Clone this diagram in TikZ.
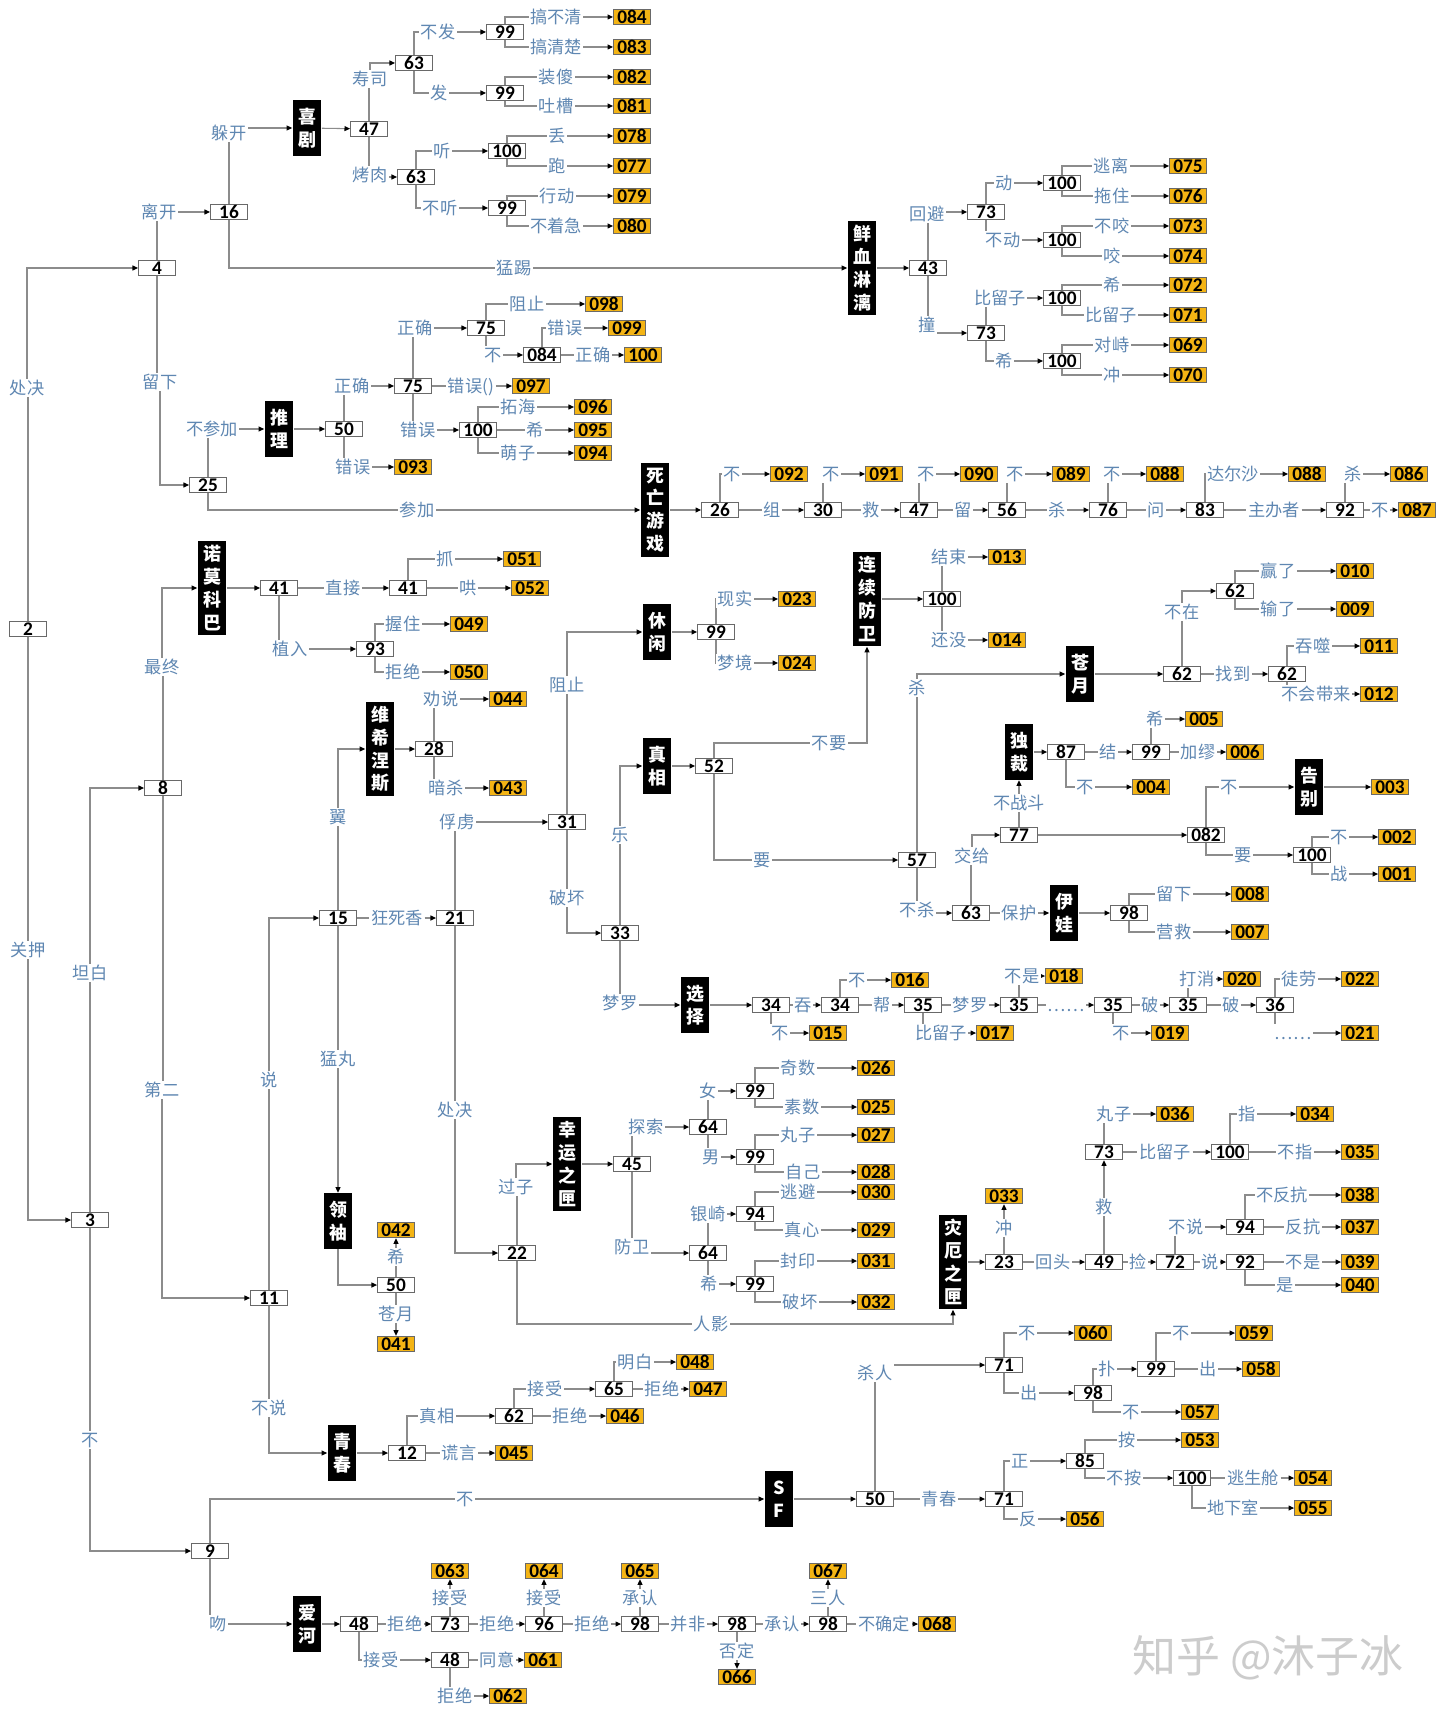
\documentclass[tikz,border=0pt]{standalone}
\usepackage{fontspec}
\setmainfont{Carlito}
\newfontfamily\cjk{Noto Sans CJK SC}
\usetikzlibrary{arrows.meta}
\pgfdeclarelayer{bg}
\pgfsetlayers{bg,main}
\definecolor{lbl}{RGB}{95,135,178}
\definecolor{lnc}{RGB}{140,140,140}
\definecolor{bxl}{RGB}{105,105,105}
\definecolor{gold}{RGB}{244,180,20}
\tikzset{
 bx/.style={draw=bxl, line width=0.5pt, fill=white, minimum width=21pt, minimum height=8.8pt, inner sep=0pt, font=\bfseries\fontsize{11}{11}\selectfont},
 ed/.style={bx, fill=gold},
 bk/.style={fill=black, text=white, minimum width=16.4pt, inner sep=0pt, align=center, font=\cjk\bfseries\fontsize{10.2}{13}\selectfont},
 bk2/.style={bk, minimum height=31.7pt},
 bk4/.style={bk, minimum height=53.9pt},
 lb/.style={fill=white, text=lbl, inner xsep=0.8pt, inner ysep=0.3pt, text height=8.4pt, text depth=1.2pt, font=\cjk\fontsize{9.8}{10}\selectfont},
 ln/.style={draw=lnc, line width=0.6pt},
 ar/.style={ln, -{Triangle[length=3.2pt,width=2.8pt,color=black]}},
}
\newcounter{lc}
\newcommand\lkV[4]{\stepcounter{lc}\node[lb] (q\arabic{lc}) at (#2) {#3};
 \begin{pgfonlayer}{bg}\draw[ln] (#1) |- (q\arabic{lc}.center);\draw[ar] (q\arabic{lc}.center) |- (#4);\end{pgfonlayer}}
\newcommand\lkH[4]{\stepcounter{lc}\node[lb] (q\arabic{lc}) at (#2) {#3};
 \begin{pgfonlayer}{bg}\draw[ln] (#1) -- (q\arabic{lc});\draw[ar] (q\arabic{lc}) -- (#4);\end{pgfonlayer}}
\begin{document}
\begin{tikzpicture}[x=0.02cm,y=-0.02cm]
\begin{pgfonlayer}{bg}\fill[white] (0,0) rectangle (1440,1716);\end{pgfonlayer}
\useasboundingbox (0,0) rectangle (1440,1716);
% white boxes
\node[bx] (b2) at (28,629) {2};
\node[bx] (b3) at (90,1220) {3};
\node[bx] (b4) at (157,268) {4};
\node[bx] (b8) at (163,788) {8};
\node[bx] (b9) at (210,1551) {9};
\node[bx] (b11) at (269,1298) {11};
\node[bx] (b16) at (229,212) {16};
\node[bx] (b25) at (208,485) {25};
\node[bx] (b47a) at (369,129) {47};
\node[bx] (b63a) at (414,63) {63};
\node[bx] (b63b) at (416,177) {63};
\node[bx] (b99a) at (505,32) {99};
\node[bx] (b99b) at (505,93) {99};
\node[bx] (b100a) at (507,151) {100};
\node[bx] (b99c) at (507,208) {99};
\node[bx] (b43) at (928,268) {43};
\node[bx] (b73a) at (986,212) {73};
\node[bx] (b73b) at (986,333) {73};
\node[bx] (b100b) at (1062,183) {100};
\node[bx] (b100c) at (1062,240) {100};
\node[bx] (b100d) at (1062,298) {100};
\node[bx] (b100e) at (1062,361) {100};
\node[bx] (b50a) at (344,429) {50};
\node[bx] (b75a) at (486,328) {75};
\node[bx] (b75b) at (413,386) {75};
\node[bx] (b084) at (542,355) {084};
\node[bx] (b100f) at (478,430) {100};
\node[bx] (b26) at (720,510) {26};
\node[bx] (b30) at (823,510) {30};
\node[bx] (b47b) at (919,510) {47};
\node[bx] (b56) at (1007,510) {56};
\node[bx] (b76) at (1108,510) {76};
\node[bx] (b83) at (1205,510) {83};
\node[bx] (b92a) at (1345,510) {92};
\node[bx] (b41a) at (279,588) {41};
\node[bx] (b41b) at (408,588) {41};
\node[bx] (b93) at (375,649) {93};
\node[bx] (b28) at (434,749) {28};
\node[bx] (b15) at (338,918) {15};
\node[bx] (b21) at (455,918) {21};
\node[bx] (b50b) at (396,1285) {50};
\node[bx] (b31) at (567,822) {31};
\node[bx] (b22) at (517,1253) {22};
\node[bx] (b99d) at (716,632) {99};
\node[bx] (b33) at (620,933) {33};
\node[bx] (b52) at (714,766) {52};
\node[bx] (b100g) at (942,599) {100};
\node[bx] (b57) at (917,860) {57};
\node[bx] (b63c) at (971,913) {63};
\node[bx] (b77) at (1019,835) {77};
\node[bx] (b87) at (1066,752) {87};
\node[bx] (b99e) at (1151,752) {99};
\node[bx] (b082) at (1206,835) {082};
\node[bx] (b100h) at (1312,855) {100};
\node[bx] (b98a) at (1129,913) {98};
\node[bx] (b62a) at (1182,674) {62};
\node[bx] (b62b) at (1235,591) {62};
\node[bx] (b62c) at (1287,674) {62};
\node[bx] (b34a) at (771,1005) {34};
\node[bx] (b34b) at (840,1005) {34};
\node[bx] (b35a) at (923,1005) {35};
\node[bx] (b35b) at (1019,1005) {35};
\node[bx] (b35c) at (1113,1005) {35};
\node[bx] (b35d) at (1188,1005) {35};
\node[bx] (b36) at (1275,1005) {36};
\node[bx] (b45) at (632,1164) {45};
\node[bx] (b64a) at (708,1127) {64};
\node[bx] (b99f) at (755,1091) {99};
\node[bx] (b99g) at (755,1157) {99};
\node[bx] (b64b) at (708,1253) {64};
\node[bx] (b94a) at (755,1214) {94};
\node[bx] (b99h) at (755,1284) {99};
\node[bx] (b23) at (1004,1262) {23};
\node[bx] (b49) at (1104,1262) {49};
\node[bx] (b73c) at (1104,1152) {73};
\node[bx] (b100i) at (1230,1152) {100};
\node[bx] (b72) at (1175,1262) {72};
\node[bx] (b94b) at (1245,1227) {94};
\node[bx] (b92b) at (1245,1262) {92};
\node[bx] (b12) at (407,1453) {12};
\node[bx] (b62d) at (514,1416) {62};
\node[bx] (b65) at (614,1389) {65};
\node[bx] (b50c) at (875,1499) {50};
\node[bx] (b71a) at (1004,1365) {71};
\node[bx] (b98b) at (1093,1393) {98};
\node[bx] (b99i) at (1156,1369) {99};
\node[bx] (b71b) at (1004,1499) {71};
\node[bx] (b85) at (1085,1461) {85};
\node[bx] (b100j) at (1192,1478) {100};
\node[bx] (b48a) at (359,1624) {48};
\node[bx] (b73d) at (450,1624) {73};
\node[bx] (b96) at (544,1624) {96};
\node[bx] (b98c) at (640,1624) {98};
\node[bx] (b98d) at (737,1624) {98};
\node[bx] (b98e) at (828,1624) {98};
\node[bx] (b48b) at (450,1660) {48};
% ending boxes
\node[ed] (e084) at (632,17) {084};
\node[ed] (e083) at (632,47) {083};
\node[ed] (e082) at (632,77) {082};
\node[ed] (e081) at (632,106) {081};
\node[ed] (e078) at (632,136) {078};
\node[ed] (e077) at (632,166) {077};
\node[ed] (e079) at (632,196) {079};
\node[ed] (e080) at (632,226) {080};
\node[ed] (e075) at (1188,166) {075};
\node[ed] (e076) at (1188,196) {076};
\node[ed] (e073) at (1188,226) {073};
\node[ed] (e074) at (1188,256) {074};
\node[ed] (e072) at (1188,285) {072};
\node[ed] (e071) at (1188,315) {071};
\node[ed] (e069) at (1188,345) {069};
\node[ed] (e070) at (1188,375) {070};
\node[ed] (e098) at (604,304) {098};
\node[ed] (e099) at (627,328) {099};
\node[ed] (e100) at (643,355) {100};
\node[ed] (e097) at (531,386) {097};
\node[ed] (e096) at (593,407) {096};
\node[ed] (e095) at (593,430) {095};
\node[ed] (e094) at (593,453) {094};
\node[ed] (e093) at (413,467) {093};
\node[ed] (e092) at (789,474) {092};
\node[ed] (e091) at (884,474) {091};
\node[ed] (e090) at (979,474) {090};
\node[ed] (e089) at (1071,474) {089};
\node[ed] (e088a) at (1165,474) {088};
\node[ed] (e088b) at (1307,474) {088};
\node[ed] (e086) at (1409,474) {086};
\node[ed] (e087) at (1417,510) {087};
\node[ed] (e051) at (522,559) {051};
\node[ed] (e052) at (530,588) {052};
\node[ed] (e049) at (469,624) {049};
\node[ed] (e050) at (469,672) {050};
\node[ed] (e044) at (508,699) {044};
\node[ed] (e043) at (508,788) {043};
\node[ed] (e042) at (396,1230) {042};
\node[ed] (e041) at (396,1344) {041};
\node[ed] (e023) at (797,599) {023};
\node[ed] (e024) at (797,663) {024};
\node[ed] (e013) at (1007,557) {013};
\node[ed] (e014) at (1007,640) {014};
\node[ed] (e010) at (1355,571) {010};
\node[ed] (e009) at (1355,609) {009};
\node[ed] (e011) at (1379,646) {011};
\node[ed] (e012) at (1379,694) {012};
\node[ed] (e005) at (1204,719) {005};
\node[ed] (e006) at (1245,752) {006};
\node[ed] (e004) at (1151,787) {004};
\node[ed] (e003) at (1390,787) {003};
\node[ed] (e002) at (1397,837) {002};
\node[ed] (e001) at (1397,874) {001};
\node[ed] (e008) at (1250,894) {008};
\node[ed] (e007) at (1250,932) {007};
\node[ed] (e016) at (910,980) {016};
\node[ed] (e015) at (828,1033) {015};
\node[ed] (e017) at (995,1033) {017};
\node[ed] (e018) at (1064,976) {018};
\node[ed] (e019) at (1170,1033) {019};
\node[ed] (e020) at (1242,979) {020};
\node[ed] (e022) at (1360,979) {022};
\node[ed] (e021) at (1360,1033) {021};
\node[ed] (e026) at (876,1068) {026};
\node[ed] (e025) at (876,1107) {025};
\node[ed] (e027) at (876,1135) {027};
\node[ed] (e028) at (876,1172) {028};
\node[ed] (e030) at (876,1192) {030};
\node[ed] (e029) at (876,1230) {029};
\node[ed] (e031) at (876,1261) {031};
\node[ed] (e032) at (876,1302) {032};
\node[ed] (e033) at (1004,1196) {033};
\node[ed] (e036) at (1175,1114) {036};
\node[ed] (e034) at (1315,1114) {034};
\node[ed] (e035) at (1360,1152) {035};
\node[ed] (e038) at (1360,1195) {038};
\node[ed] (e037) at (1360,1227) {037};
\node[ed] (e039) at (1360,1262) {039};
\node[ed] (e040) at (1360,1285) {040};
\node[ed] (e048) at (695,1362) {048};
\node[ed] (e047) at (708,1389) {047};
\node[ed] (e046) at (625,1416) {046};
\node[ed] (e045) at (514,1453) {045};
\node[ed] (e060) at (1093,1333) {060};
\node[ed] (e059) at (1254,1333) {059};
\node[ed] (e058) at (1261,1369) {058};
\node[ed] (e057) at (1200,1412) {057};
\node[ed] (e053) at (1200,1440) {053};
\node[ed] (e054) at (1313,1478) {054};
\node[ed] (e055) at (1313,1508) {055};
\node[ed] (e056) at (1085,1519) {056};
\node[ed] (e063) at (450,1571) {063};
\node[ed] (e064) at (544,1571) {064};
\node[ed] (e065) at (640,1571) {065};
\node[ed] (e067) at (828,1571) {067};
\node[ed] (e066) at (737,1677) {066};
\node[ed] (e068) at (937,1624) {068};
\node[ed] (e061) at (543,1660) {061};
\node[ed] (e062) at (508,1696) {062};
% black boxes
\node[bk2] (kxj) at (307,128) {喜\\剧};
\node[bk4] (kxx) at (862,268) {鲜\\血\\淋\\漓};
\node[bk2] (ktl) at (279,429) {推\\理};
\node[bk4] (ksw) at (655,510) {死\\亡\\游\\戏};
\node[bk4] (knm) at (212,588) {诺\\莫\\科\\巴};
\node[bk4] (kwx) at (380,749) {维\\希\\涅\\斯};
\node[bk2] (kxq) at (657,632) {休\\闲};
\node[bk4] (klx) at (867,599) {连\\续\\防\\卫};
\node[bk2] (kcy) at (1080,674) {苍\\月};
\node[bk2] (kzx) at (657,766) {真\\相};
\node[bk2] (kdc) at (1019,752) {独\\裁};
\node[bk2] (kgb) at (1309,787) {告\\别};
\node[bk2] (kyw) at (1064,913) {伊\\娃};
\node[bk2] (kxz) at (695,1005) {选\\择};
\node[bk2] (kls) at (338,1221) {领\\袖};
\node[bk4] (kxy) at (567,1164) {幸\\运\\之\\匣};
\node[bk4] (kze) at (953,1262) {灾\\厄\\之\\匣};
\node[bk2] (kqc) at (342,1453) {青\\春};
\node[bk2] (ksf) at (779,1499) {S\\F};
\node[bk2] (kah) at (307,1624) {爱\\河};
% direct arrows
\begin{pgfonlayer}{bg}
\draw[ar] (kxj) -- (b47a);
\draw[ar] (kxx) -- (b43);
\draw[ar] (ktl) -- (b50a);
\draw[ar] (ksw) -- (b26);
\draw[ar] (knm) -- (b41a);
\draw[ar] (kwx) -- (b28);
\draw[ar] (kxq) -- (b99d);
\draw[ar] (klx) -- (b100g);
\draw[ar] (kcy) -- (b62a);
\draw[ar] (kzx) -- (b52);
\draw[ar] (kdc) -- (b87);
\draw[ar] (kgb) -- (e003);
\draw[ar] (kyw) -- (b98a);
\draw[ar] (kxz) -- (b34a);
\draw[ar] (kxy) -- (b45);
\draw[ar] (kze) -- (b23);
\draw[ar] (kqc) -- (b12);
\draw[ar] (ksf) -- (b50c);
\draw[ar] (kah) -- (b48a);
\draw[ar] (b77) -- (b082);
\draw[ar] (kls) |- (b50b);
\end{pgfonlayer}
% left trunk
\lkV{b2}{27,388}{处决}{b4}
\lkV{b2}{28,950}{关押}{b3}
\lkV{b4}{159,212}{离开}{b16}
\lkV{b4}{160,382}{留下}{b25}
\lkV{b3}{90,973}{坦白}{b8}
\lkV{b3}{90,1440}{不}{b9}
\lkV{b8}{162,667}{最终}{knm}
\lkV{b8}{162,1090}{第二}{b11}
% comedy
\lkV{b16}{229,133}{躲开}{kxj}
\lkV{b16}{514,268}{猛踢}{kxx}
\lkV{b47a}{370,79}{寿司}{b63a}
\lkV{b47a}{370,175}{烤肉}{b63b}
\lkV{b63a}{438,32}{不发}{b99a}
\lkV{b63a}{439,93}{发}{b99b}
\lkV{b63b}{442,151}{听}{b100a}
\lkV{b63b}{440,208}{不听}{b99c}
\lkV{b99a}{556,17}{搞不清}{e084}
\lkV{b99a}{556,47}{搞清楚}{e083}
\lkV{b99b}{556,77}{装傻}{e082}
\lkV{b99b}{556,106}{吐槽}{e081}
\lkV{b100a}{557,136}{丢}{e078}
\lkV{b100a}{557,166}{跑}{e077}
\lkV{b99c}{557,196}{行动}{e079}
\lkV{b99c}{556,226}{不着急}{e080}
% bloody
\lkV{b43}{927,214}{回避}{b73a}
\lkV{b43}{927,325}{撞}{b73b}
\lkV{b73a}{1004,183}{动}{b100b}
\lkV{b73a}{1003,240}{不动}{b100c}
\lkV{b73b}{1000,298}{比留子}{b100d}
\lkV{b73b}{1004,361}{希}{b100e}
\lkV{b100b}{1111,166}{逃离}{e075}
\lkV{b100b}{1112,196}{拖住}{e076}
\lkV{b100c}{1112,226}{不咬}{e073}
\lkV{b100c}{1112,256}{咬}{e074}
\lkV{b100d}{1112,285}{希}{e072}
\lkV{b100d}{1111,315}{比留子}{e071}
\lkV{b100e}{1112,345}{对峙}{e069}
\lkV{b100e}{1112,375}{冲}{e070}
% reasoning
\lkV{b25}{212,429}{不参加}{ktl}
\lkV{b25}{417,510}{参加}{ksw}
\lkV{b50a}{352,386}{正确}{b75b}
\lkV{b50a}{353,467}{错误}{e093}
\lkV{b75b}{415,328}{正确}{b75a}
\lkH{b75b}{471,386}{错误()}{e097}
\lkV{b75b}{418,430}{错误}{b100f}
\lkV{b75a}{527,304}{阻止}{e098}
\lkV{b75a}{493,355}{不}{b084}
\lkV{b084}{565,328}{错误}{e099}
\lkH{b084}{593,355}{正确}{e100}
\lkV{b100f}{518,407}{拓海}{e096}
\lkH{b100f}{535,430}{希}{e095}
\lkV{b100f}{518,453}{萌子}{e094}
% death game
\lkV{b26}{732,474}{不}{e092}
\lkH{b26}{772,510}{组}{b30}
\lkV{b30}{831,474}{不}{e091}
\lkH{b30}{871,510}{救}{b47b}
\lkV{b47b}{926,474}{不}{e090}
\lkH{b47b}{963,510}{留}{b56}
\lkV{b56}{1015,474}{不}{e089}
\lkH{b56}{1057,510}{杀}{b76}
\lkV{b76}{1112,474}{不}{e088a}
\lkH{b76}{1156,510}{问}{b83}
\lkV{b83}{1233,474}{达尔沙}{e088b}
\lkH{b83}{1274,510}{主办者}{b92a}
\lkV{b92a}{1353,474}{杀}{e086}
\lkH{b92a}{1380,510}{不}{e087}
% nomokoba
\lkH{b41a}{343,588}{直接}{b41b}
\lkV{b41b}{445,559}{抓}{e051}
\lkH{b41b}{468,588}{哄}{e052}
\lkV{b41a}{290,649}{植入}{b93}
\lkV{b93}{403,624}{握住}{e049}
\lkV{b93}{403,672}{拒绝}{e050}
% middle
\lkV{b15}{338,817}{翼}{kwx}
\lkV{b28}{441,699}{劝说}{e044}
\lkV{b28}{446,788}{暗杀}{e043}
\lkV{b11}{269,1080}{说}{b15}
\lkH{b15}{397,918}{狂死香}{b21}
\lkH{b15}{338,1059}{猛丸}{kls}
\lkH{b50b}{396,1257}{希}{e042}
\lkH{b50b}{396,1314}{苍月}{e041}
\lkV{b21}{457,822}{俘虏}{b31}
\lkV{b21}{455,1110}{处决}{b22}
\lkV{b31}{567,685}{阻止}{kxq}
\lkV{b31}{567,898}{破坏}{b33}
\lkV{b99d}{735,599}{现实}{e023}
\lkV{b99d}{735,663}{梦境}{e024}
\lkV{b33}{620,835}{乐}{kzx}
\node[lb] (sp1) at (829,743) {不要};
\begin{pgfonlayer}{bg}\draw[ln] (b52) |- (sp1.center);\draw[ar] (sp1.center) -| (klx);\end{pgfonlayer}
\lkV{b100g}{949,557}{结束}{e013}
\lkV{b100g}{949,640}{还没}{e014}
\lkV{b52}{762,860}{要}{b57}
\lkV{b57}{917,688}{杀}{kcy}
\lkV{b57}{917,910}{不杀}{b63c}
\lkV{b63c}{972,856}{交给}{b77}
\lkH{b77}{1019,803}{不战斗}{kdc}
\lkH{b87}{1108,752}{结}{b99e}
\lkV{b99e}{1155,719}{希}{e005}
\lkH{b99e}{1198,752}{加缪}{e006}
\lkV{b87}{1085,787}{不}{e004}
\lkV{b082}{1229,787}{不}{kgb}
\lkV{b082}{1243,855}{要}{b100h}
\lkV{b100h}{1339,837}{不}{e002}
\lkV{b100h}{1339,874}{战}{e001}
\lkH{b63c}{1019,913}{保护}{kyw}
\lkV{b98a}{1174,894}{留下}{e008}
\lkV{b98a}{1174,932}{营救}{e007}
% moon
\lkV{b62a}{1182,612}{不在}{b62b}
\lkH{b62a}{1233,674}{找到}{b62c}
\lkV{b62b}{1278,571}{赢了}{e010}
\lkV{b62b}{1278,609}{输了}{e009}
\lkV{b62c}{1313,646}{吞噬}{e011}
\lkV{b62c}{1316,694}{不会带来}{e012}
% choice
\lkV{b33}{620,1003}{梦罗}{kxz}
\lkH{b34a}{803,1005}{吞}{b34b}
\lkV{b34a}{780,1033}{不}{e015}
\lkV{b34b}{857,980}{不}{e016}
\lkH{b34b}{882,1005}{帮}{b35a}
\lkH{b35a}{970,1005}{梦罗}{b35b}
\lkV{b35a}{941,1033}{比留子}{e017}
\lkV{b35b}{1022,976}{不是}{e018}
\lkH{b35b}{1066,1005}{……}{b35c}
\lkH{b35c}{1150,1005}{破}{b35d}
\lkV{b35c}{1121,1033}{不}{e019}
\lkV{b35d}{1197,979}{打消}{e020}
\lkH{b35d}{1231,1005}{破}{b36}
\lkV{b36}{1299,979}{徒劳}{e022}
\lkV{b36}{1293,1033}{……}{e021}
% lucky box
\lkV{b22}{516,1187}{过子}{kxy}
\lkV{b45}{646,1127}{探索}{b64a}
\lkV{b45}{632,1247}{防卫}{b64b}
\lkV{b64a}{708,1091}{女}{b99f}
\lkV{b64a}{711,1157}{男}{b99g}
\lkV{b99f}{798,1068}{奇数}{e026}
\lkV{b99f}{802,1107}{素数}{e025}
\lkV{b99g}{798,1135}{丸子}{e027}
\lkV{b99g}{803,1172}{自己}{e028}
\lkV{b64b}{708,1214}{银崎}{b94a}
\lkV{b94a}{798,1192}{逃避}{e030}
\lkV{b94a}{802,1230}{真心}{e029}
\lkV{b64b}{709,1284}{希}{b99h}
\lkV{b99h}{798,1261}{封印}{e031}
\lkV{b99h}{800,1302}{破坏}{e032}
\node[lb] (sp2) at (711,1324) {人影};
\begin{pgfonlayer}{bg}\draw[ln] (b22) |- (sp2.center);\draw[ar] (sp2.center) -| (kze);\end{pgfonlayer}
% disaster box
\lkH{b23}{1004,1228}{冲}{e033}
\lkH{b23}{1053,1262}{回头}{b49}
\lkH{b49}{1104,1207}{救}{b73c}
\lkV{b73c}{1114,1114}{丸子}{e036}
\lkH{b73c}{1165,1152}{比留子}{b100i}
\lkV{b100i}{1247,1114}{指}{e034}
\lkH{b100i}{1295,1152}{不指}{e035}
\lkH{b49}{1138,1262}{捡}{b72}
\lkV{b72}{1186,1227}{不说}{b94b}
\lkH{b72}{1210,1262}{说}{b92b}
\lkV{b94b}{1282,1195}{不反抗}{e038}
\lkH{b94b}{1303,1227}{反抗}{e037}
\lkH{b92b}{1303,1262}{不是}{e039}
\lkV{b92b}{1285,1285}{是}{e040}
% youth
\lkV{b11}{269,1408}{不说}{kqc}
\lkV{b12}{437,1416}{真相}{b62d}
\lkH{b12}{459,1453}{谎言}{e045}
\lkV{b62d}{545,1389}{接受}{b65}
\lkH{b62d}{570,1416}{拒绝}{e046}
\lkV{b65}{635,1362}{明白}{e048}
\lkH{b65}{662,1389}{拒绝}{e047}
% SF
\lkV{b9}{465,1499}{不}{ksf}
\lkV{b50c}{875,1373}{杀人}{b71a}
\lkH{b50c}{939,1499}{青春}{b71b}
\lkV{b71a}{1027,1333}{不}{e060}
\lkV{b71a}{1029,1393}{出}{b98b}
\lkV{b98b}{1107,1369}{扑}{b99i}
\lkV{b98b}{1131,1412}{不}{e057}
\lkV{b99i}{1181,1333}{不}{e059}
\lkH{b99i}{1208,1369}{出}{e058}
\lkV{b71b}{1020,1461}{正}{b85}
\lkV{b71b}{1028,1519}{反}{e056}
\lkV{b85}{1127,1440}{按}{e053}
\lkV{b85}{1124,1478}{不按}{b100j}
\lkH{b100j}{1253,1478}{逃生舱}{e054}
\lkV{b100j}{1233,1508}{地下室}{e055}
% love river
\lkV{b9}{218,1624}{吻}{kah}
\lkH{b48a}{405,1624}{拒绝}{b73d}
\lkH{b73d}{450,1598}{接受}{e063}
\lkH{b73d}{497,1624}{拒绝}{b96}
\lkH{b96}{544,1598}{接受}{e064}
\lkH{b96}{592,1624}{拒绝}{b98c}
\lkH{b98c}{640,1598}{承认}{e065}
\lkH{b98c}{688,1624}{并非}{b98d}
\lkH{b98d}{737,1651}{否定}{e066}
\lkH{b98d}{782,1624}{承认}{b98e}
\lkH{b98e}{828,1598}{三人}{e067}
\lkH{b98e}{884,1624}{不确定}{e068}
\lkV{b48a}{381,1660}{接受}{b48b}
\lkH{b48b}{497,1660}{同意}{e061}
\lkV{b48b}{455,1696}{拒绝}{e062}
% watermark
\node[font=\cjk\fontsize{25}{25}\selectfont, text=black!20] (wm) at (1268,1658) {知乎 @沐子冰};
\end{tikzpicture}
\end{document}
